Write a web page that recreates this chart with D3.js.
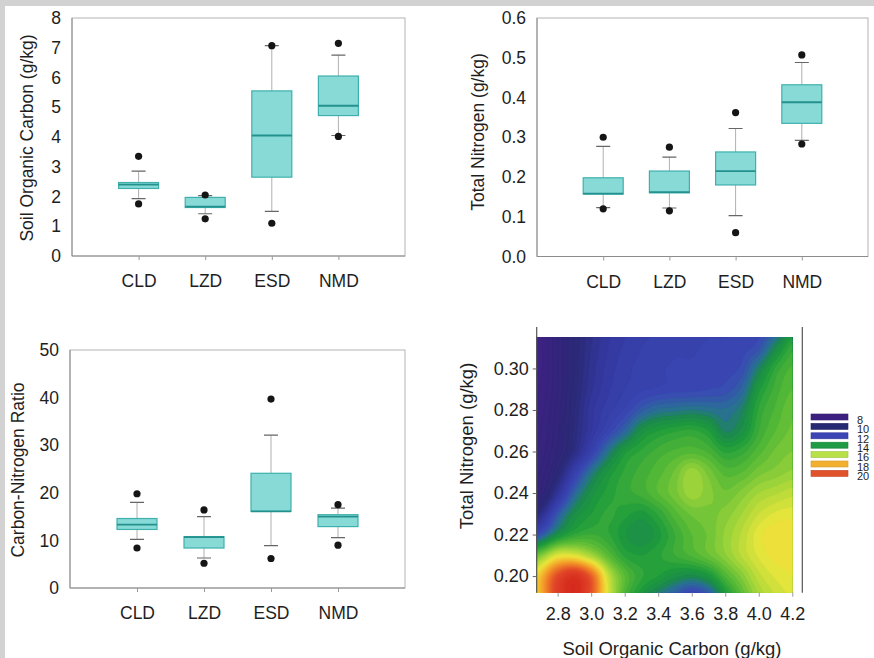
<!DOCTYPE html>
<html>
<head>
<meta charset="utf-8">
<script src="https://cdn.jsdelivr.net/npm/d3@7"></script>
<style>
    html, body { margin: 0; padding: 0; background: #d2d2d2; }
    svg { display: block; }
    text { font-family: 'Liberation Sans', Arial, sans-serif; fill: #1e1e1e; }
</style>
</head>
<body>
<script>
const categories = ['CLD', 'LZD', 'ESD', 'NMD'];

// box stats per category: [lowWhisker, q1, median, q3, highWhisker]
const socStats = [
    [1.93, 2.27, 2.40, 2.47, 2.85],
    [1.42, 1.63, 1.66, 1.97, 2.03],
    [1.50, 2.65, 4.05, 5.55, 7.07],
    [4.05, 4.72, 5.05, 6.05, 6.75]
];
const socOutliers = [[3.35, 1.75], [2.05, 1.25], [7.07, 1.10], [7.15, 4.02]];

const tnStats = [
    [0.123, 0.157, 0.158, 0.198, 0.277],
    [0.122, 0.160, 0.162, 0.215, 0.250],
    [0.103, 0.180, 0.215, 0.263, 0.322],
    [0.292, 0.335, 0.388, 0.432, 0.488]
];
const tnOutliers = [[0.300, 0.120], [0.275, 0.115], [0.362, 0.060], [0.507, 0.283]];

const cnStats = [
    [10.2, 12.3, 13.3, 14.6, 18.0],
    [6.3, 8.4, 10.7, 10.8, 15.0],
    [8.9, 16.1, 16.1, 24.1, 32.1],
    [10.6, 12.9, 15.0, 15.4, 16.8]
];
const cnOutliers = [[19.8, 8.4], [16.4, 5.2], [39.7, 6.2], [17.5, 9.0]];

const socTicks = [0, 1, 2, 3, 4, 5, 6, 7, 8];
const tnTicks = [0, 0.1, 0.2, 0.3, 0.4, 0.5, 0.6];
const cnTicks = [0, 10, 20, 30, 40, 50];

// contour map: C/N ratio read on a grid of SOC (columns) x TN (rows, top to bottom)
const gridSoc = [2.6, 2.7, 2.8, 2.9, 3.0, 3.1, 3.2, 3.3, 3.4, 3.5, 3.6, 3.7, 3.8, 3.9, 4.0, 4.1, 4.2];
const gridTn = [0.32, 0.31, 0.30, 0.29, 0.28, 0.27, 0.26, 0.25, 0.24, 0.23, 0.22, 0.21, 0.20, 0.19];
const cnGrid = [
    [8.0, 8.2, 9.0, 9.8, 10.4, 10.9, 11.2, 11.4, 11.5, 11.6, 11.6, 11.7, 11.7, 11.8, 11.9, 12.4, 13.6],
    [8.0, 8.2, 9.0, 9.8, 10.5, 11.0, 11.3, 11.5, 11.6, 11.7, 11.7, 11.8, 11.8, 11.9, 12.2, 13.4, 14.4],
    [8.0, 8.2, 9.0, 9.8, 10.6, 11.1, 11.4, 11.6, 11.7, 11.8, 11.8, 11.9, 11.9, 12.1, 13.2, 14.3, 14.8],
    [8.0, 8.3, 9.0, 9.9, 10.7, 11.2, 11.5, 11.7, 11.8, 11.9, 11.9, 12.0, 12.1, 12.6, 13.9, 14.6, 15.0],
    [8.1, 8.4, 9.1, 10.0, 10.9, 11.4, 11.8, 12.4, 12.8, 12.9, 13.0, 12.9, 12.8, 13.2, 14.3, 14.8, 15.2],
    [8.2, 8.5, 9.2, 10.1, 11.0, 11.8, 12.6, 13.6, 14.0, 14.2, 14.3, 14.0, 13.2, 13.6, 14.5, 15.0, 15.3],
    [8.3, 8.6, 9.3, 10.3, 11.6, 12.9, 13.9, 14.3, 14.6, 14.8, 14.9, 14.7, 14.2, 14.4, 14.9, 15.3, 15.5],
    [8.5, 8.8, 9.8, 11.5, 12.9, 13.8, 14.3, 14.6, 14.9, 15.3, 15.9, 15.4, 14.9, 15.0, 15.4, 15.6, 15.8],
    [8.7, 9.1, 10.8, 12.6, 13.6, 14.1, 14.4, 14.6, 15.0, 15.4, 15.9, 15.6, 15.3, 15.6, 16.0, 16.2, 16.4],
    [9.0, 10.4, 12.3, 13.5, 14.0, 14.3, 14.1, 13.9, 14.3, 14.9, 15.3, 15.4, 15.6, 16.0, 16.5, 16.8, 16.9],
    [11.5, 12.3, 13.6, 14.3, 14.5, 14.3, 13.8, 13.5, 13.9, 14.5, 15.0, 15.3, 15.8, 16.3, 16.9, 17.2, 17.2],
    [14.5, 15.5, 16.8, 16.8, 16.0, 15.0, 14.2, 14.0, 14.2, 14.5, 14.8, 15.2, 15.7, 16.3, 16.8, 17.1, 17.1],
    [16.0, 17.8, 20.0, 21.0, 19.5, 16.5, 15.0, 14.3, 14.0, 13.6, 13.4, 13.8, 14.8, 15.6, 16.4, 16.8, 17.0],
    [16.2, 18.0, 20.5, 21.5, 19.8, 16.8, 14.8, 13.8, 13.0, 12.3, 11.6, 12.2, 13.8, 15.0, 16.0, 16.5, 16.8]
];
const mapSocTicks = [2.8, 3.0, 3.2, 3.4, 3.6, 3.8, 4.0, 4.2];
const mapTnTicks = [0.20, 0.22, 0.24, 0.26, 0.28, 0.30];

// colour ramp of the map and its legend
const rampStops = [8, 9, 10, 11, 12, 12.8, 13.4, 14, 15, 16, 17, 18, 19, 20, 21.5];
const rampColors = ['#3e2384', '#33247a', '#2b2a78', '#3438a0', '#3a48b4', '#2a6f98', '#1b8a4c',
    '#1f9c3c', '#58bb36', '#a5d63a', '#ece63c', '#f5b22e', '#ee7b28', '#e2492a', '#d62a1e'];
const legendLevels = [8, 10, 12, 14, 16, 18, 20];
const legendColors = ['#3c2080', '#262a72', '#3d44b4', '#1f9a45', '#b8e048', '#f3b02f', '#e0522b'];

const svg = d3.select('body')
    .append('svg')
    .attr('width', 874)
    .attr('height', 658);

svg.append('rect')
    .attr('x', 5).attr('y', 6)
    .attr('width', 869).attr('height', 652)
    .attr('fill', '#fff');

function drawBoxPanel(cfg) {
    const x = d3.scalePoint().domain(categories).range([cfg.left, cfg.right]).padding(1);
    const y = d3.scaleLinear().domain(cfg.domain).range([cfg.bottom, cfg.top]);
    const g = svg.append('g');

    // frame: light top/right, darker left/bottom
    g.append('rect')
        .attr('x', cfg.left).attr('y', cfg.top)
        .attr('width', cfg.right - cfg.left).attr('height', cfg.bottom - cfg.top)
        .attr('fill', 'none')
        .attr('stroke', '#b4b4b4');
    g.append('path')
        .attr('d', `M${cfg.left},${cfg.top}V${cfg.bottom}H${cfg.right}`)
        .attr('fill', 'none')
        .attr('stroke', '#8c8c8c');

    const yAxis = g.append('g')
        .attr('transform', `translate(${cfg.left},0)`)
        .call(d3.axisLeft(y).tickValues(cfg.ticks).tickSize(0).tickPadding(11).tickFormat(cfg.format));
    yAxis.select('.domain').remove();
    yAxis.selectAll('text').attr('font-size', 17.5).attr('fill', '#1e1e1e');

    const xAxis = g.append('g')
        .attr('transform', `translate(0,${cfg.bottom})`)
        .call(d3.axisBottom(x).tickSize(4).tickPadding(15));
    xAxis.select('.domain').remove();
    xAxis.selectAll('line').attr('stroke', '#999');
    xAxis.selectAll('text').attr('font-size', 17.5).attr('fill', '#1e1e1e');

    g.append('text')
        .attr('transform', `translate(${cfg.titleX},${cfg.titleY}) rotate(-90)`)
        .attr('text-anchor', 'middle')
        .attr('dy', '0.35em')
        .attr('font-size', 17.5)
        .text(cfg.title);

    const boxW = 40, capW = 14;
    const boxes = g.selectAll('.box')
        .data(cfg.stats.map((s, i) => ({ cat: categories[i], s: s, out: cfg.outliers[i] })))
        .enter()
        .append('g')
        .attr('class', 'box');

    // whiskers
    boxes.append('path')
        .attr('d', d => `M${x(d.cat)},${y(d.s[3])}V${y(d.s[4])}M${x(d.cat)},${y(d.s[1])}V${y(d.s[0])}`)
        .attr('stroke', '#b0b0b0')
        .attr('fill', 'none');
    boxes.append('path')
        .attr('d', d => `M${x(d.cat) - capW / 2},${y(d.s[4])}h${capW}M${x(d.cat) - capW / 2},${y(d.s[0])}h${capW}`)
        .attr('stroke', '#666')
        .attr('stroke-width', 1.2)
        .attr('fill', 'none');

    boxes.append('rect')
        .attr('x', d => x(d.cat) - boxW / 2)
        .attr('y', d => y(d.s[3]))
        .attr('width', boxW)
        .attr('height', d => y(d.s[1]) - y(d.s[3]))
        .attr('fill', '#88dad7')
        .attr('stroke', '#3fb0ad')
        .attr('stroke-width', 1.2);
    boxes.append('line')
        .attr('x1', d => x(d.cat) - boxW / 2)
        .attr('x2', d => x(d.cat) + boxW / 2)
        .attr('y1', d => y(d.s[2]))
        .attr('y2', d => y(d.s[2]))
        .attr('stroke', '#23918d')
        .attr('stroke-width', 1.8);

    boxes.selectAll('circle')
        .data(d => d.out.map(v => ({ cat: d.cat, v: v })))
        .enter()
        .append('circle')
        .attr('cx', d => x(d.cat))
        .attr('cy', d => y(d.v))
        .attr('r', 3.6)
        .attr('fill', '#151515');
}

drawBoxPanel({
    left: 72, right: 405, top: 18, bottom: 256,
    domain: [0, 8], ticks: socTicks, format: d3.format('d'),
    stats: socStats, outliers: socOutliers,
    title: 'Soil Organic Carbon (g/kg)', titleX: 27, titleY: 138
});
drawBoxPanel({
    left: 537, right: 868, top: 18, bottom: 256.5,
    domain: [0, 0.6], ticks: tnTicks, format: d3.format('.1f'),
    stats: tnStats, outliers: tnOutliers,
    title: 'Total Nitrogen (g/kg)', titleX: 478, titleY: 132
});
drawBoxPanel({
    left: 70, right: 405, top: 350, bottom: 588,
    domain: [0, 50], ticks: cnTicks, format: d3.format('d'),
    stats: cnStats, outliers: cnOutliers,
    title: 'Carbon-Nitrogen Ratio', titleX: 17.5, titleY: 470
});

// ---- contour map ----
function drawContourPanel() {
    const left = 536.7, right = 792.3, top = 337.3, bottom = 592.7;
    const cx = d3.scaleLinear().domain([2.675, 4.2]).range([left, right]);
    const cy = d3.scaleLinear().domain([0.192, 0.315]).range([bottom, top]);
    const color = d3.scaleLinear().domain(rampStops).range(rampColors).clamp(true);

    // smooth resampling of the read grid (Catmull-Rom) for drawing
    function cubic(p0, p1, p2, p3, t) {
        return 0.5 * (2 * p1 + (-p0 + p2) * t + (2 * p0 - 5 * p1 + 4 * p2 - p3) * t * t
            + (-p0 + 3 * p1 - 3 * p2 + p3) * t * t * t);
    }
    const nCol = gridSoc.length, nRow = gridTn.length;
    function cell(r, c) {
        r = Math.max(0, Math.min(nRow - 1, r));
        c = Math.max(0, Math.min(nCol - 1, c));
        return cnGrid[r][c];
    }
    function sample(soc, tn) {
        const u = (soc - gridSoc[0]) / 0.1;
        const v = (gridTn[0] - tn) / 0.01;
        const i = Math.max(0, Math.min(nCol - 2, Math.floor(u)));
        const j = Math.max(0, Math.min(nRow - 2, Math.floor(v)));
        const t = u - i, s = v - j;
        const rows = [-1, 0, 1, 2].map(k => cubic(cell(j + k, i - 1), cell(j + k, i), cell(j + k, i + 1), cell(j + k, i + 2), t));
        return cubic(rows[0], rows[1], rows[2], rows[3], s);
    }

    const nx = 161, ny = 131;
    const socStep = 0.01, tnStep = 0.001;
    const tnMin = gridTn[nRow - 1];
    const values = new Array(nx * ny);
    for (let fy = 0; fy < ny; fy++) {
        for (let fx = 0; fx < nx; fx++) {
            values[fy * nx + fx] = sample(gridSoc[0] + fx * socStep, tnMin + fy * tnStep);
        }
    }

    const thresholds = d3.range(7, 22.01, 0.25);
    const contours = d3.contours().size([nx, ny]).thresholds(thresholds)(values);
    const projection = d3.geoTransform({
        point: function (px, py) {
            this.stream.point(cx(gridSoc[0] + (px - 0.5) * socStep), cy(tnMin + (py - 0.5) * tnStep));
        }
    });
    const path = d3.geoPath(projection);

    svg.append('clipPath')
        .attr('id', 'map-clip')
        .append('rect')
        .attr('x', left).attr('y', top)
        .attr('width', right - left).attr('height', bottom - top);

    svg.append('g')
        .attr('clip-path', 'url(#map-clip)')
        .selectAll('path')
        .data(contours)
        .enter()
        .append('path')
        .attr('d', path)
        .attr('fill', d => color(d.value + 0.125))
        .attr('stroke', d => color(d.value + 0.125))
        .attr('stroke-width', 0.3);

    // axes
    svg.append('path')
        .attr('d', `M${left},327V${bottom}M802.3,327V${bottom}`)
        .attr('stroke', '#555')
        .attr('stroke-width', 1.2)
        .attr('fill', 'none');

    const yAxis = svg.append('g')
        .attr('transform', `translate(${left},0)`)
        .call(d3.axisLeft(cy).tickValues(mapTnTicks).tickSize(4).tickPadding(4).tickFormat(d3.format('.2f')));
    yAxis.select('.domain').remove();
    yAxis.selectAll('line').attr('stroke', '#666');
    yAxis.selectAll('text').attr('font-size', 18).attr('fill', '#1e1e1e');

    const xAxis = svg.append('g')
        .attr('transform', `translate(0,${bottom})`)
        .call(d3.axisBottom(cx).tickValues(mapSocTicks).tickSize(4).tickPadding(11).tickFormat(d3.format('.1f')));
    xAxis.select('.domain').remove();
    xAxis.selectAll('line').attr('stroke', '#999');
    xAxis.selectAll('text').attr('font-size', 18).attr('fill', '#1e1e1e');

    svg.append('text')
        .attr('x', 672).attr('y', 654.5)
        .attr('text-anchor', 'middle')
        .attr('font-size', 18.5)
        .text('Soil Organic Carbon (g/kg)');
    svg.append('text')
        .attr('transform', 'translate(467,446) rotate(-90)')
        .attr('text-anchor', 'middle')
        .attr('dy', '0.35em')
        .attr('font-size', 18.5)
        .text('Total Nitrogen (g/kg)');

    // legend
    const legend = svg.append('g');
    legend.selectAll('rect')
        .data(legendLevels)
        .enter()
        .append('rect')
        .attr('x', 811)
        .attr('y', (d, i) => 414 + i * 9.4)
        .attr('width', 37)
        .attr('height', 6)
        .attr('fill', (d, i) => legendColors[i])
        .attr('stroke', (d, i) => d3.color(legendColors[i]).darker(0.4))
        .attr('stroke-width', 0.6);
    legend.selectAll('text')
        .data(legendLevels)
        .enter()
        .append('text')
        .attr('x', 857)
        .attr('y', (d, i) => 423.8 + i * 9.4)
        .attr('font-size', 11)
        .attr('fill', '#1e1e1e')
        .text(d => d);
}

drawContourPanel();
</script>
</body>
</html>
